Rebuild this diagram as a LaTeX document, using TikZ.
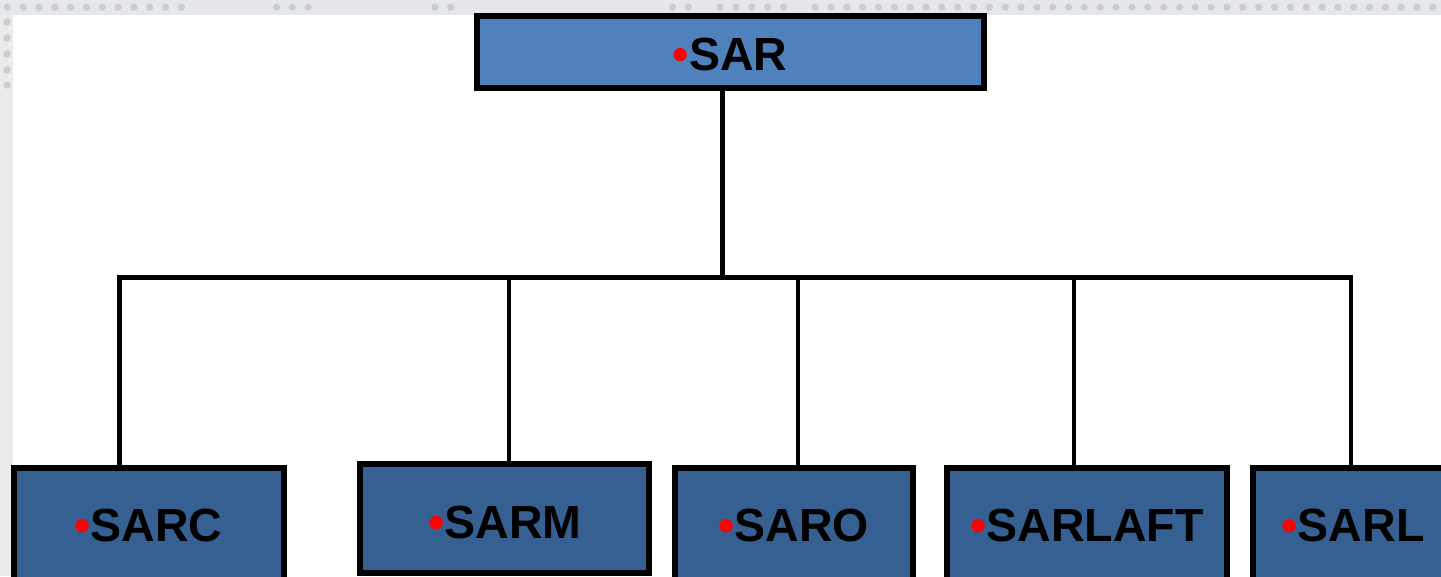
\documentclass[tikz,border=0pt]{standalone}
\usepackage{fontspec}
\setmainfont{Liberation Sans}
\definecolor{rootfill}{RGB}{79,129,189}
\definecolor{unitfill}{RGB}{54,96,146}
\definecolor{stripbg}{RGB}{229,231,234}
\definecolor{sidebg}{RGB}{235,235,235}
\definecolor{stripdot}{RGB}{201,204,209}
\newcommand{\rdot}{\textcolor{red}{•}}
\tikzset{
  boxbase/.style={draw=black, line width=5.5pt, inner sep=0pt, outer sep=0pt, rectangle},
  rootbox/.style={boxbase, fill=rootfill},
  unitbox/.style={boxbase, fill=unitfill},
  lbl/.style={anchor=base, inner sep=0pt, text=black,
    font=\bfseries\fontsize{46.5}{50}\selectfont},
  wire/.style={draw=black, line width=4.5pt, line join=miter},
}
\begin{document}
\begin{tikzpicture}[x=1pt, y=-1pt]
\useasboundingbox (0,0) rectangle (1441,576);
\clip (0,0) rectangle (1441,576);
% slide background
\fill[white] (0,0) rectangle (1441,576);
\fill[stripbg] (0,0) rectangle (1441,14.5);
\fill[sidebg] (0,14.5) rectangle (13,576);
\foreach \k in {0,...,11,17,18,19,27,28,42,43,45,46,47,48,49,51,52,...,90}
  \fill[stripdot] (7.3+15.84*\k,7.2) circle (3.6);
\foreach \yy in {22,38,54,70,85}
  \fill[stripdot] (7,\yy) circle (3.6);

% boxes
\node[rootbox, minimum width=507pt, minimum height=72pt] (sar) at (730.5,52) {};
\node[unitbox, minimum width=270pt, minimum height=152pt] (sarc) at (149,544) {};
\node[unitbox, minimum width=289pt, minimum height=109pt] (sarm) at (504.5,518.5) {};
\node[unitbox, minimum width=238pt, minimum height=152pt] (saro) at (794,544) {};
\node[unitbox, minimum width=280pt, minimum height=152pt] (sarlaft) at (1087,544) {};
\node[unitbox, minimum width=207pt, minimum height=152pt] (sarl) at (1356.5,544) {};

% labels
\node[lbl] (sar-t) at (730,70.5) {\rdot SAR};
\node[lbl] (sarc-t) at (148.5,541.5) {\rdot SARC};
\node[lbl] (sarm-t) at (505,538) {\rdot SARM};
\node[lbl] (saro-t) at (793.5,541) {\rdot SARO};
\node[lbl] (sarlaft-t) at (1087,541.5) {\rdot SARLAFT};
\node[lbl] (sarl-t) at (1353,541.5) {\rdot SARL};

% bus junctions
\coordinate (top) at (722.5,277.5);
\coordinate (j1) at (119.5,277.5);
\coordinate (j2) at (509,277.5);
\coordinate (j3) at (798,277.5);
\coordinate (j4) at (1074,277.5);
\coordinate (j5) at (1351,277.5);

% connectors
\draw[wire] (top |- sar.south) -- (top);
\draw[wire] (j1 |- sarc.north) -- (j1) -- (j5) -- (j5 |- sarl.north);
\draw[wire] (j2) -- (j2 |- sarm.north);
\draw[wire] (j3) -- (j3 |- saro.north);
\draw[wire] (j4) -- (j4 |- sarlaft.north);
\end{tikzpicture}
\end{document}
